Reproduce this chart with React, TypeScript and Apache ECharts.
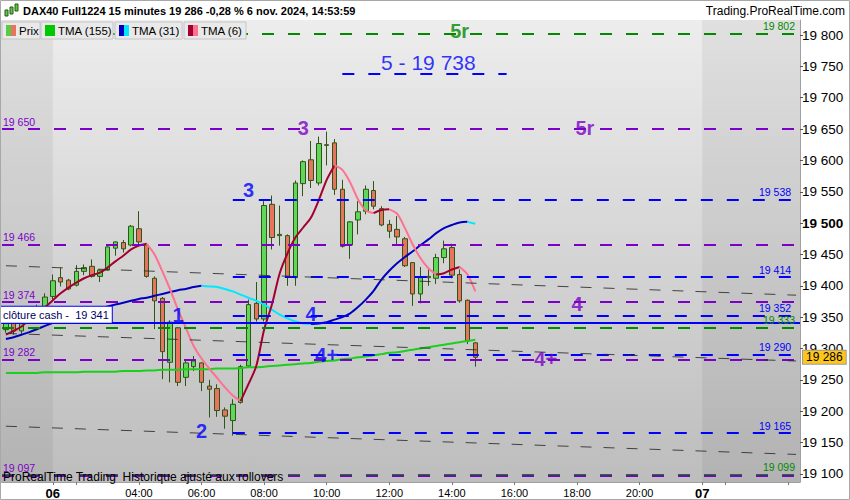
import React, { useEffect, useRef } from 'react';
import * as echarts from 'echarts';

const FONT = '"Liberation Sans", Arial, sans-serif';

// ---- time axis: 15-minute bars per session ----
const sessions: [string, string, string][] = [
  ['05', '20:30', '21:45'],
  ['06', '01:15', '21:45'],
  ['07', '01:15', '04:15'],
];
const toMin = (s: string) => { const [h, m] = s.split(':').map(Number); return h * 60 + m; };
const pad = (n: number) => String(n).padStart(2, '0');
const categories: string[] = [];
for (const [d, a, b] of sessions) {
  for (let m = toMin(a); m <= toMin(b); m += 15) categories.push(`${d} ${pad(Math.floor(m / 60))}:${pad(m % 60)}`);
}

// ---- candles: [open, close, low, high] ----
const candles: number[][] = [
  [19330, 19350, 19325, 19355], [19350, 19328, 19322, 19356], [19328, 19345, 19322, 19350],
  [19345, 19362, 19340, 19368], [19362, 19352, 19348, 19370], [19352, 19382, 19350, 19388],
  [19383, 19408, 19378, 19418], [19413, 19406, 19399, 19429], [19409, 19395, 19393, 19411],
  [19401, 19423, 19399, 19433], [19423, 19429, 19417, 19434], [19431, 19415, 19413, 19442],
  [19415, 19425, 19406, 19426], [19425, 19462, 19424, 19463], [19460, 19470, 19448, 19471],
  [19469, 19459, 19453, 19473], [19465, 19495, 19463, 19497], [19491, 19470, 19463, 19519],
  [19465, 19415, 19413, 19467], [19412, 19376, 19331, 19415], [19380, 19295, 19251, 19382],
  [19278, 19342, 19246, 19345], [19333, 19246, 19240, 19334], [19254, 19277, 19240, 19282],
  [19271, 19280, 19264, 19288], [19277, 19246, 19232, 19278], [19240, 19235, 19190, 19250],
  [19236, 19201, 19191, 19243], [19202, 19192, 19172, 19206], [19185, 19211, 19161, 19219],
  [19214, 19271, 19212, 19274], [19272, 19370, 19270, 19378], [19372, 19347, 19343, 19406],
  [19347, 19528, 19343, 19535], [19530, 19477, 19458, 19544], [19480, 19482, 19464, 19528],
  [19480, 19415, 19400, 19482], [19413, 19564, 19400, 19568], [19563, 19598, 19543, 19600],
  [19601, 19568, 19556, 19631], [19564, 19627, 19560, 19638], [19624, 19625, 19592, 19646],
  [19628, 19554, 19545, 19634], [19554, 19463, 19461, 19569], [19465, 19502, 19443, 19503],
  [19505, 19518, 19482, 19535], [19519, 19554, 19514, 19560], [19552, 19527, 19522, 19567],
  [19523, 19497, 19495, 19527], [19498, 19487, 19476, 19505], [19490, 19478, 19465, 19511],
  [19475, 19432, 19430, 19478], [19437, 19387, 19368, 19437], [19387, 19413, 19372, 19430],
  [19413, 19415, 19400, 19427], [19412, 19445, 19403, 19451], [19445, 19459, 19436, 19472],
  [19461, 19417, 19412, 19467], [19418, 19376, 19373, 19426], [19377, 19312, 19307, 19378],
  [19309, 19286, 19271, 19310],
];

const tma155 = [
  19261, 19261, 19261, 19261, 19261, 19262, 19262, 19262, 19262, 19262,
  19263, 19263, 19263, 19263, 19263, 19264, 19264, 19264, 19265, 19265,
  19266, 19266, 19266, 19267, 19267, 19267, 19267, 19268, 19268, 19268,
  19269, 19270, 19270, 19271, 19272, 19273, 19274, 19275, 19276, 19277,
  19279, 19280, 19281, 19283, 19284, 19286, 19287, 19289, 19291, 19293,
  19294, 19296, 19298, 19300, 19302, 19304, 19306, 19308, 19310, 19312, 19314,
];
const tma31 = [
  19315, 19318, 19322, 19326, 19331, 19336, 19341, 19346, 19350, 19354,
  19358, 19361, 19364, 19367, 19370, 19373, 19376, 19379, 19381, 19384,
  19387, 19390, 19393, 19395, 19398, 19400, 19399, 19398, 19395, 19391,
  19386, 19381, 19376, 19370, 19362, 19354, 19348, 19343, 19340, 19339,
  19340, 19342, 19346, 19350, 19356, 19366, 19378, 19392, 19410, 19424,
  19436, 19446, 19455, 19465, 19474, 19484, 19492, 19497, 19501, 19502, 19499,
];
const tma6 = [
  19322, 19328, 19335, 19346, 19356, 19366, 19377, 19388, 19397, 19405,
  19412, 19417, 19421, 19429, 19439, 19448, 19458, 19464, 19467, 19450,
  19423, 19394, 19362, 19333, 19304, 19284, 19268, 19253, 19238, 19225,
  19216, 19243, 19272, 19330, 19370, 19420, 19452, 19477, 19493, 19509,
  19537, 19569, 19592, 19585, 19565, 19538, 19520, 19516, 19521, 19522,
  19515, 19492, 19466, 19444, 19428, 19418, 19420, 19426, 19430, 19418, 19391,
];

// ---- horizontal levels ----
const greenLevels = [19802, 19333, 19099];
const purpleLevels = [19650, 19466, 19374, 19282, 19097];
const blueLevels = [19538, 19414, 19352, 19290, 19165];
const blueLevelFrom = '06 07:00';
const cashClose = 19341;
const target = 19738;
const targetFrom = '06 10:30';
const targetTo = '06 15:45';
const lastPrice = 19286;

// ---- trend channel (dashed black) ----
const trendFrom = '05 20:30';
const trendTo = '07 04:15';
const trendStartValues = [19432, 19324, 19176];
const trendEndValues = [19385, 19280, 19131];

// ---- wave annotations ----
const blueMarkText = ['5 - 19 738', '3', '1', '4', '4+', '2'];
const blueMarkTime = ['06 13:15', '06 07:30', '06 05:15', '06 09:30', '06 10:00', '06 06:00'];
const blueMarkPrice = [19757, 19553, 19354, 19355, 19290, 19168];
const purpleMarkText = ['3', '5r', '4', '4+'];
const purpleMarkTime = ['06 09:15', '06 18:15', '06 18:00', '06 17:00'];
const purpleMarkPrice = [19651, 19651, 19371, 19284];
const greenMarkText = ['5r'];
const greenMarkTime = ['06 14:15'];
const greenMarkPrice = [19806];
const plainMarkText = ['5 - 19 738'];

const C_GREEN = '#008a00';
const C_PURPLE = '#7d00c8';
const C_BLUE = '#0000ff';

const fmt = (v: number) => `${Math.floor(v / 1000)} ${String(Math.round(v) % 1000).padStart(3, '0')}`;
const idx = (name: string) => categories.indexOf(name);

function dirSegments(vals: number[]) {
  const segs: { up: boolean; start: number; end: number }[] = [];
  let prevUp = true;
  for (let k = 0; k < vals.length - 1; k++) {
    const a = vals[k], b = vals[k + 1];
    const up = b > a ? true : b < a ? false : prevUp;
    const last = segs[segs.length - 1];
    if (last && last.up === up && last.end === k) last.end = k + 1;
    else segs.push({ up, start: k, end: k + 1 });
    prevUp = up;
  }
  return segs;
}

function twoColorSeries(name: string, vals: number[], upColor: string, downColor: string) {
  return dirSegments(vals).map((s, n) => ({
    name: `${name}-${n}`,
    type: 'line',
    data: categories.map((_, i) => (i >= s.start && i <= s.end && vals[i] != null ? vals[i] : null)),
    showSymbol: false,
    symbol: 'none',
    smooth: 0.3,
    connectNulls: false,
    silent: true,
    z: 4,
    lineStyle: { width: 2, color: s.up ? upColor : downColor },
  }));
}

function markSeries(texts: string[], times: string[], prices: number[], color: string) {
  return {
    type: 'scatter',
    silent: true,
    z: 6,
    symbolSize: 1,
    itemStyle: { color: 'rgba(0,0,0,0)' },
    data: texts.map((t, i) => {
      const plain = plainMarkText.includes(t);
      return {
        value: [idx(times[i]), prices[i]],
        name: t,
        label: plain ? { fontWeight: 'normal', fontSize: 21 } : { fontWeight: 'bold', fontSize: 20 },
      };
    }),
    label: {
      show: true,
      position: 'inside',
      formatter: (p: any) => p.name,
      color,
      fontSize: 20,
      fontFamily: FONT,
      fontWeight: 'bold',
    },
  };
}

const dash = [12, 14];
const LBL = 10.5;
const rightLabel = (v: number, color: string) => ({
  show: true, position: 'insideEndTop', formatter: fmt(v), color, fontSize: LBL, fontFamily: FONT, distance: [5, 2],
});
const leftLabel = (v: number, color: string) => ({
  show: true, position: 'insideStartTop', formatter: fmt(v), color, fontSize: LBL, fontFamily: FONT, distance: [1, 2],
});

const markLineData: any[] = [
  ...greenLevels.map((v) => ({ yAxis: v, lineStyle: { color: C_GREEN, width: 2, type: dash }, label: rightLabel(v, C_GREEN) })),
  ...purpleLevels.map((v) => ({ yAxis: v, lineStyle: { color: C_PURPLE, width: 2, type: dash }, label: leftLabel(v, C_PURPLE) })),
  ...blueLevels.map((v) => [
    { coord: [idx(blueLevelFrom), v], lineStyle: { color: C_BLUE, width: 2, type: dash }, label: rightLabel(v, C_BLUE) },
    { coord: [categories.length - 1, v] },
  ]),
  [
    { coord: [idx(targetFrom), target], lineStyle: { color: C_BLUE, width: 2, type: dash }, label: { show: false } },
    { coord: [idx(targetTo), target] },
  ],
  ...trendStartValues.map((v, i) => [
    { coord: [idx(trendFrom), v], lineStyle: { color: '#2a2a2a', width: 1, type: [11, 12], opacity: 0.85 }, label: { show: false } },
    { coord: [idx(trendTo), trendEndValues[i]] },
  ]),
  {
    yAxis: cashClose,
    lineStyle: { color: C_BLUE, width: 2, type: 'solid' },
    label: {
      show: true, position: 'insideStartTop', formatter: `clôture cash -  ${fmt(cashClose)}`,
      color: '#000060', fontSize: 11, fontFamily: FONT, backgroundColor: '#ffffff',
      borderColor: C_BLUE, borderWidth: 1, padding: [3, 3, 2, 3], distance: [-2, 0],
    },
  },
  {
    yAxis: lastPrice,
    lineStyle: { color: 'rgba(0,0,0,0)', width: 0 },
    label: {
      show: true, position: 'end', formatter: fmt(lastPrice), color: '#000', fontSize: 12, fontFamily: FONT,
      backgroundColor: '#ffc61a', borderColor: '#9a9a9a', borderWidth: 1, padding: [1, 3, 0, 3], distance: 3,
    },
  },
];

const dayOf = (c: string) => c.slice(0, 2);
const isSessionStart = (i: number) => i > 0 && dayOf(categories[i]) !== dayOf(categories[i - 1]);
const hourMin = (c: string) => c.slice(3).split(':').map(Number);
const isEvenHour = (c: string) => { const [h, m] = hourMin(c); return m === 0 && h % 2 === 0; };
const showTick = (i: number) => isSessionStart(i) || isEvenHour(categories[i]);
const showLabel = (i: number) => {
  const c = categories[i];
  if (isSessionStart(i)) return true;
  const [h] = hourMin(c);
  return dayOf(c) === '06' && isEvenHour(c) && h >= 4;
};

export default function App() {
  const ref = useRef<HTMLDivElement>(null);
  useEffect(() => {
    if (!ref.current) return;
    const chart = echarts.init(ref.current, null, { renderer: 'svg' });
    chart.setOption({
      animation: false,
      backgroundColor: '#ffffff',
      textStyle: { fontFamily: FONT },
      grid: { left: 2, right: 50, top: 20, bottom: 17, containLabel: false },
      xAxis: {
        type: 'category',
        data: categories,
        boundaryGap: true,
        axisLine: { show: true, lineStyle: { color: '#a0a0a0' } },
        axisTick: { show: true, alignWithLabel: true, interval: (i: number) => showTick(i), length: 3, lineStyle: { color: '#777' } },
        axisLabel: {
          interval: (i: number) => showLabel(i),
          formatter: (v: string, i: number) => (isSessionStart(i) ? `{b|${dayOf(v)}}` : v.slice(3)),
          color: '#000', fontSize: 11, fontFamily: FONT, margin: 5,
          rich: { b: { fontWeight: 'bold', fontSize: 13, fontFamily: FONT, color: '#000' } },
        },
        splitLine: { show: false },
      },
      yAxis: {
        type: 'value',
        position: 'right',
        min: 19087,
        max: 19824,
        splitNumber: 14,
        axisLine: { show: true, lineStyle: { color: '#a0a0a0' } },
        axisTick: { show: true, length: 3, lineStyle: { color: '#555' } },
        axisLabel: {
          showMinLabel: false, showMaxLabel: false, margin: 2,
          color: '#000', fontSize: 13.5, fontFamily: FONT,
          formatter: (v: number) => (v === 19500 ? `{b|${fmt(v)}}` : fmt(v)),
          rich: { b: { fontWeight: 'bold', fontSize: 13.5, fontFamily: FONT, color: '#000' } },
        },
        splitLine: { show: false },
      },
      series: [
        {
          name: 'Prix',
          type: 'candlestick',
          data: candles,
          barWidth: 5,
          z: 3,
          silent: true,
          itemStyle: { color: '#5fd85a', color0: '#e8735f', borderColor: '#2d5614', borderColor0: '#2d5614', borderWidth: 1 },
          markLine: { silent: true, symbol: ['none', 'none'], animation: false, data: markLineData },
        },
        {
          name: 'TMA (155)', type: 'line', data: tma155, showSymbol: false, symbol: 'none', smooth: 0.3,
          silent: true, z: 4, lineStyle: { width: 2, color: '#1ccf1c' },
        },
        ...twoColorSeries('TMA (31)', tma31, '#0000c0', '#00e8ff'),
        ...twoColorSeries('TMA (6)', tma6, '#a3002f', '#ff7091'),
        markSeries(blueMarkText, blueMarkTime, blueMarkPrice, C_BLUE),
        markSeries(purpleMarkText, purpleMarkTime, purpleMarkPrice, C_PURPLE),
        markSeries(greenMarkText, greenMarkTime, greenMarkPrice, C_GREEN),
      ],
    });

    const sessStart6 = chart.convertToPixel({ xAxisIndex: 0 }, idx('06 01:15')) as number;
    const sessStart7 = chart.convertToPixel({ xAxisIndex: 0 }, idx('07 01:15')) as number;
    const top = 20, bottom = 483, right = 800;

    const chip = (x: number, w: number, text: string, c1: string, c2: string) => ({
      type: 'group', z: 100,
      children: [
        { type: 'rect', shape: { x, y: 22, width: w, height: 17 }, style: { fill: '#e9e9e9', stroke: '#c4c4c4', lineWidth: 1 }, z: 100 },
        { type: 'rect', shape: { x: x + 4, y: 25, width: 5, height: 11 }, style: { fill: c1 }, z: 101 },
        { type: 'rect', shape: { x: x + 9, y: 25, width: 5, height: 11 }, style: { fill: c2 }, z: 101 },
        { type: 'text', x: x + 17, y: 31, style: { text, fill: '#000', font: `11.5px ${FONT}`, verticalAlign: 'middle' }, z: 101 },
      ],
    });

    chart.setOption({
      graphic: [
        {
          type: 'rect', z: -10, silent: true,
          shape: { x: 0, y: top, width: right, height: bottom - top },
          style: { fill: new echarts.graphic.LinearGradient(0, 0, 0, 1, [{ offset: 0, color: '#ededed' }, { offset: 1, color: '#bdbdbd' }]) },
        },
        { type: 'rect', z: -9, silent: true, shape: { x: 0, y: top, width: sessStart6, height: bottom - top }, style: { fill: 'rgba(0,0,0,0.055)' } },
        { type: 'rect', z: -9, silent: true, shape: { x: sessStart7, y: top, width: right - sessStart7, height: bottom - top }, style: { fill: 'rgba(0,0,0,0.055)' } },
        // header
        { type: 'rect', z: 100, shape: { x: 5, y: 10, width: 3, height: 6 }, style: { fill: '#55cc44', stroke: '#2d5614', lineWidth: 1 } },
        { type: 'rect', z: 100, shape: { x: 10, y: 7, width: 3, height: 7 }, style: { fill: '#55cc44', stroke: '#2d5614', lineWidth: 1 } },
        { type: 'rect', z: 100, shape: { x: 15, y: 4, width: 3, height: 7 }, style: { fill: '#55cc44', stroke: '#2d5614', lineWidth: 1 } },
        {
          type: 'text', z: 100, x: 23, y: 11,
          style: { text: 'DAX40 Full1224 15 minutes 19 286 -0,28 % 6 nov. 2024, 14:53:59', fill: '#000', font: `bold 11px ${FONT}`, verticalAlign: 'middle' },
        },
        {
          type: 'text', z: 100, x: 845, y: 11,
          style: { text: 'Trading.ProRealTime.com', fill: '#000', font: `12px ${FONT}`, align: 'right', verticalAlign: 'middle' },
        },
        chip(2, 38, 'Prix', '#55cc44', '#e8735f'),
        chip(41, 72, 'TMA (155)', '#00c800', '#00c800'),
        chip(115, 67, 'TMA (31)', '#0000c0', '#00e8ff'),
        chip(184, 62, 'TMA (6)', '#a3002f', '#ff7091'),
        {
          type: 'text', z: 100, x: 3, y: 477,
          style: { text: 'ProRealTime Trading  Historique ajusté aux rollovers', fill: '#000', font: `12px ${FONT}`, verticalAlign: 'middle' },
        },
        { type: 'rect', z: 120, silent: true, shape: { x: 0.5, y: 0.5, width: 849, height: 499 }, style: { fill: 'none', stroke: '#a8a8a8', lineWidth: 1 } },
      ],
    });

    return () => chart.dispose();
  }, []);
  return <div ref={ref} style={{ position: 'fixed', left: 0, top: 0, width: 850, height: 500 }} />;
}
